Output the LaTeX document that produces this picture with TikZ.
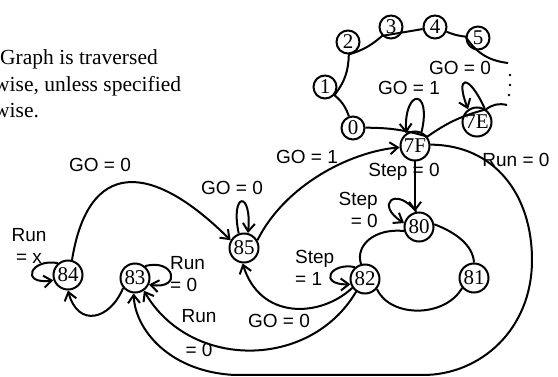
\documentclass[tikz,border=0pt]{standalone}
\usepackage{fontspec}
\setmainfont{Liberation Serif}
\newfontfamily\lblfont{Liberation Sans}
\usetikzlibrary{arrows.meta}
\begin{document}
\begin{tikzpicture}[x=1pt,y=-1pt,
  st/.style={circle,draw,line width=2pt,fill=white,inner sep=0pt,minimum size=29pt,font=\fontsize{21}{22}\selectfont},
  sm/.style={st,minimum size=23pt},
  ln/.style={line width=2pt},
  arr/.style={ln,-{Straight Barb[length=8pt,width=12pt]}},
  lbl/.style={font=\lblfont\fontsize{19}{22}\selectfont,inner sep=0pt},
  note/.style={font=\fontsize{21.5}{26}\selectfont,inner sep=0pt,anchor=base west}
]
\useasboundingbox (0,0) rectangle (558,377);
\clip (0,0) rectangle (558,377);
% note text
\node[note] (t1) at (0,65) {Graph is traversed};
\node[note] (t2) at (-6,92) {wise, unless specified};
\node[note] (t3) at (-6,118) {wise.};
% nodes
\node[sm] (n0) at (353,128) {0};
\node[sm] (n1) at (325,87) {1};
\node[sm] (n2) at (348,42) {2};
\node[sm] (n3) at (391,27) {3};
\node[sm] (n4) at (435,27) {4};
\node[sm] (n5) at (478,38) {5};
\node[st] (n7E) at (477,122) {7E};
\node[st] (n7F) at (415,146) {7F};
\node[st] (n80) at (419,227) {80};
\node[st] (n81) at (474,278) {81};
\node[st] (n82) at (365,279) {82};
\node[st] (n83) at (135,278) {83};
\node[st] (n84) at (68,275) {84};
\node[st] (n85) at (244,248) {85};
\coordinate (d1) at (508,63);
\coordinate (d2) at (507,105);
% ring
\draw[ln] (n0) to[bend right=15] (n1) to[bend right=18] (n2) to[bend right=12] (n3) -- (n4) to[bend right=8] (n5) to[bend right=25] (d1);
\draw[ln] (d2) to[bend right=25] (n7E) to[bend right=10] (n7F) to[bend right=8] (n0);
\fill (510,75) circle (1.4pt) (510,85) circle (1.4pt) (509,95) circle (1.4pt);
% self loops
\draw[arr] (n7F.65) .. controls (432,88) and (404,88) .. (n7F.125);
\node[lbl] (l1) at (409,88) {GO = 1};
\draw[arr] (n7E.60) .. controls (468,72) and (455,76) .. (n7E.125);
\node[lbl] (l2) at (460,68) {GO = 0};
\draw[arr] (n80.100) .. controls (395,185) and (375,205) .. (n80.165);
\node[lbl,align=right,anchor=north east] (l3) at (378,192) {Step\\= 0};
\draw[arr] (n82.130) .. controls (330,262) and (318,285) .. (n82.200);
\node[lbl,align=left,anchor=north west] (l4) at (295,250) {Step\\= 1};
\draw[arr] (n83.50) .. controls (175,258) and (182,290) .. (n83.335);
\node[lbl,align=left,anchor=north west] (l5) at (170,256) {Run\\= 0};
\draw[arr] (n84.130) .. controls (30,258) and (20,285) .. (n84.200);
\node[lbl,align=center,anchor=north] (l6) at (29,228) {Run\\= x};
\draw[arr] (n85.110) .. controls (230,192) and (252,190) .. (n85.75);
\node[lbl] (l7) at (232,188) {GO = 0};
% main edges
\draw[arr] (n7F) -- (n7F |- n80.north);
\node[lbl] (l8) at (404,172) {Step = 0};
\draw[arr] (n85.30) .. controls (285,185) and (350,152) .. (n7F.185);
\node[lbl] (l9) at (307,157) {GO = 1};
\draw[arr] (n84.75) .. controls (88,160) and (150,160) .. (n85.150);
\node[lbl] (l10) at (100,165) {GO = 0};
\draw[arr] (n82.215) .. controls (320,318) and (260,320) .. (n85.265);
\node[lbl] (l11) at (279,321) {GO = 0};
\draw[arr] (n82.235) .. controls (310,370) and (190,370) .. (n83.305);
\node[lbl,align=center] (l12) at (199,333) {Run\\[12pt]= 0};
\draw[arr] (n7F.5) .. controls (495,145) and (532,195) .. (532,260)
  .. controls (532,330) and (480,375) .. (423,375) -- (235,375)
  .. controls (170,372) and (135,330) .. (n83.265);
\node[lbl] (l13) at (516,160) {Run = 0};
\draw[arr] (n83.220) .. controls (110,320) and (78,328) .. (n84.270);
% inner ring
\draw[ln] (n80.10) .. controls (455,232) and (473,245) .. (n81.north);
\draw[ln] (n81.220) .. controls (445,318) and (390,318) .. (n82.320);
\draw[ln] (n82.105) .. controls (355,245) and (375,228) .. (n80.195);
\end{tikzpicture}
\end{document}
